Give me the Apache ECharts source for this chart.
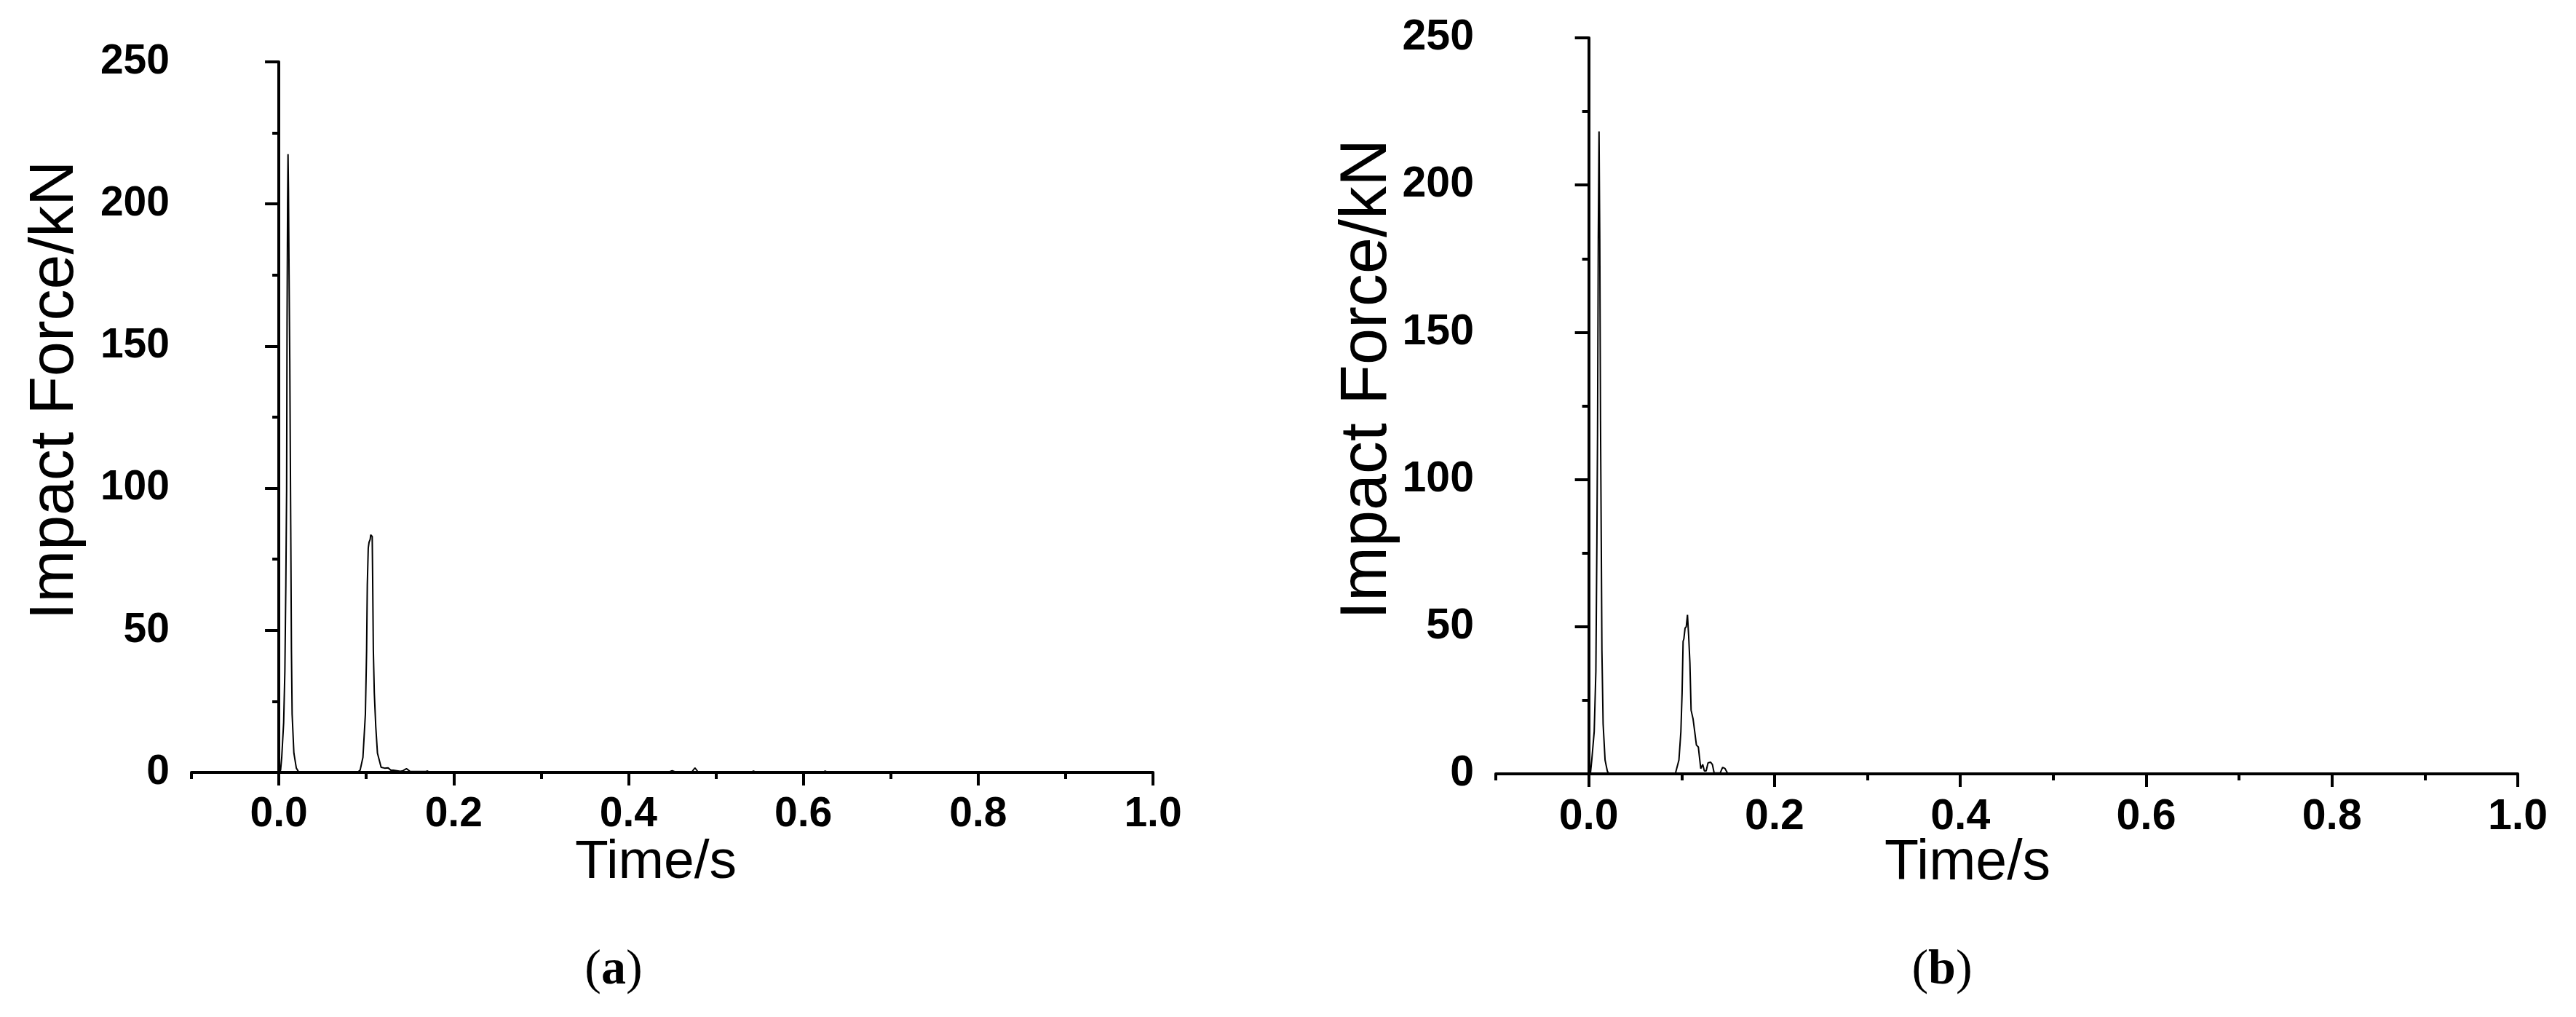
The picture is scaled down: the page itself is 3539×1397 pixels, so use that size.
<!DOCTYPE html>
<html>
<head>
<meta charset="utf-8">
<title>Impact Force</title>
<script src="https://cdn.jsdelivr.net/npm/echarts@6/dist/echarts.min.js"></script>
<style>
  html, body { margin: 0; padding: 0; background: #fff; }
  #chart { width: 3539px; height: 1397px; }
</style>
</head>
<body>
<div id="chart"></div>
<script>
// 数据：时间 (s) 和冲击力 (kN)
const timeA = [0.000, 0.002, 0.0033, 0.0055, 0.0069, 0.0080, 0.0089, 0.0094, 0.0100, 0.0105, 0.0110, 0.0117, 0.0125, 0.0136, 0.0144, 0.0152, 0.0172, 0.0200, 0.0230,
  0.090, 0.093, 0.0962, 0.0990, 0.1004, 0.1012, 0.1023, 0.1032, 0.1045, 0.1051, 0.1060, 0.1068, 0.1073, 0.1081, 0.1092, 0.1109, 0.1128, 0.117, 0.121, 0.125, 0.128, 0.131, 0.139, 0.142, 0.146, 0.150, 0.168, 0.170, 0.172,
  0.445, 0.450, 0.455, 0.472, 0.476, 0.480, 0.540, 0.543, 0.546, 0.622, 0.625, 0.628, 1.0];
const forceA = [0, 0.8, 5.3, 17.5, 35.7, 66, 99.6, 159, 200, 217.5, 205, 175, 145, 87, 43, 20.5, 6.8, 1.5, 0,
  0, 0.8, 5.3, 20.5, 43, 66, 79, 81, 82, 83.6, 83.8, 83, 69, 43, 28, 16, 6.8, 1.8, 1.5, 1.6, 0.8, 0.8, 0.4, 0.6, 1.3, 0.4, 0.3, 0.5, 0.1,
  0, 0.6, 0, 0, 1.6, 0, 0, 0.5, 0, 0, 0.5, 0, 0];

const timeB = [0.000, 0.002, 0.0033, 0.0059, 0.0077, 0.0088, 0.0095, 0.0103, 0.0111, 0.0119, 0.0127, 0.0135, 0.0142, 0.0155, 0.0176, 0.0200, 0.0215,
  0.0932, 0.0971, 0.0992, 0.1005, 0.1016, 0.1024, 0.1037, 0.1050, 0.1063, 0.1076, 0.1089, 0.1102, 0.1123, 0.1141, 0.1159, 0.1180, 0.1193, 0.1206, 0.1227, 0.1245, 0.1264, 0.1284, 0.1311, 0.1331, 0.1350, 0.1415, 0.1441, 0.1467, 0.1493, 0.155, 1.0];
const forceB = [0, 0.6, 4.7, 14.3, 34.8, 79, 115.6, 181.7, 218.2, 181.7, 120, 79, 42, 17, 4.7, 1, 0,
  0, 4.7, 14.3, 27.5, 45, 45.8, 49.5, 50, 54, 46.6, 37.8, 21.6, 18.7, 14.3, 9.8, 9.1, 5.4, 1.8, 3.2, 1.0, 1.0, 3.7, 4.0, 3.2, 0.3, 0.3, 2.2, 1.8, 0.3, 0, 0];

const xMajor = [0, 0.2, 0.4, 0.6, 0.8, 1.0];
const xMinor = [-0.1, 0.1, 0.3, 0.5, 0.7, 0.9];

const FONT = '"Liberation Sans", Arial, sans-serif';
const black = '#000';

function pairs(t, f) {
  return t.map((x, i) => [x, f[i]]);
}

// 主刻度轴（带标签）
function majorX(grid, size) {
  return {
    type: 'value', gridIndex: grid, min: -0.1, max: 1.0,
    axisLine: { show: true, onZero: false, lineStyle: { color: black, width: 4 } },
    axisTick: { show: true, customValues: xMajor, length: 18, lineStyle: { color: black, width: 4 } },
    axisLabel: {
      show: true, customValues: xMajor, margin: 30,
      formatter: v => v.toFixed(1),
      color: black, fontFamily: FONT, fontWeight: 'bold', fontSize: size
    },
    splitLine: { show: false }
  };
}
// 次刻度轴（只有短刻度）
function minorX(grid) {
  return {
    type: 'value', gridIndex: grid, min: -0.1, max: 1.0, position: 'bottom',
    axisLine: { show: false },
    axisTick: { show: true, customValues: xMinor, length: 9, lineStyle: { color: black, width: 4 } },
    axisLabel: { show: false },
    splitLine: { show: false }
  };
}
function yAxis(grid, size) {
  return {
    type: 'value', gridIndex: grid, min: 0, max: 250, interval: 50,
    axisLine: { show: true, lineStyle: { color: black, width: 4 } },
    axisTick: { show: true, length: 19, lineStyle: { color: black, width: 4 } },
    minorTick: { show: true, splitNumber: 2, length: 9, lineStyle: { color: black, width: 4 } },
    axisLabel: { margin: 30, color: black, fontFamily: FONT, fontWeight: 'bold', fontSize: size },
    splitLine: { show: false },
    minorSplitLine: { show: false }
  };
}

function title(text, x, y, size, rotate) {
  return {
    type: 'text', x: x, y: y, rotation: rotate ? Math.PI / 2 : 0,
    style: { text: text, fill: black, font: size + 'px ' + FONT, align: 'center', verticalAlign: 'middle' }
  };
}
function caption(letter, x, y) {
  return {
    type: 'text', x: x, y: y,
    style: {
      text: '{p|(}{b|' + letter + '}{p|)}', align: 'center', verticalAlign: 'middle',
      rich: {
        p: { fontFamily: '"Liberation Serif", serif', fontSize: 68, fill: black },
        b: { fontFamily: '"Liberation Serif", serif', fontSize: 68, fontWeight: 'bold', fill: black }
      }
    }
  };
}

const chart = echarts.init(document.getElementById('chart'));
chart.setOption({
  animation: false,
  backgroundColor: '#fff',
  grid: [
    { left: 263, top: 85, width: 1321, height: 976 },
    { left: 2055, top: 52, width: 1404, height: 1011 }
  ],
  xAxis: [majorX(0, 57), minorX(0), majorX(1, 59), minorX(1)],
  yAxis: [yAxis(0, 57), yAxis(1, 59)],
  series: [
    {
      type: 'line', xAxisIndex: 0, yAxisIndex: 0, data: pairs(timeA, forceA),
      showSymbol: false, lineStyle: { color: black, width: 2 }
    },
    {
      type: 'line', xAxisIndex: 2, yAxisIndex: 1, data: pairs(timeB, forceB),
      showSymbol: false, lineStyle: { color: black, width: 2 }
    }
  ],
  graphic: [
    title('Impact Force/kN', 76, 536, 86, true),
    title('Time/s', 901, 1185, 75, false),
    title('Impact Force/kN', 1879, 521, 90, true),
    title('Time/s', 2703, 1187, 77, false),
    caption('a', 843, 1333),
    caption('b', 2668, 1333)
  ]
});
</script>
</body>
</html>
